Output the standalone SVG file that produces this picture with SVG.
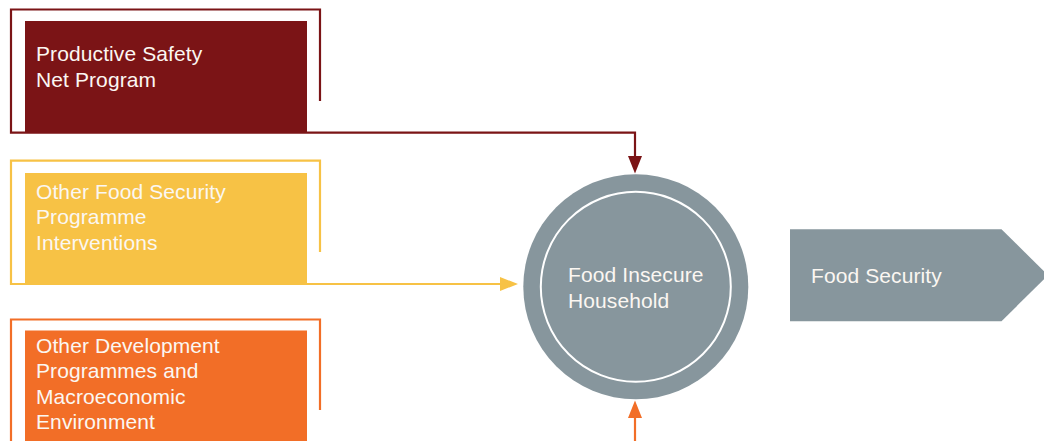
<svg xmlns="http://www.w3.org/2000/svg" width="1044" height="441" viewBox="0 0 1044 441">
  <style>
    .lbl { font-family: "Liberation Sans", Arial, sans-serif; font-size: 21px; letter-spacing: 0.1px; fill: #fbf7f2; }
    .frame { fill: none; stroke-width: 2.2; }
    .conn { fill: none; stroke-width: 2.2; }
    .red { stroke: #7b1416; }
    .yel { stroke: #f7c245; }
    .org { stroke: #f26e27; }
  </style>
  <rect width="1044" height="441" fill="#ffffff"/>

  <!-- Productive Safety Net Program -->
  <g id="node-psnp">
    <path class="frame red" d="M320,101 V9.5 H11 V132.6 H307"/>
    <rect x="25" y="21" width="282" height="111" fill="#7b1416"/>
    <text class="lbl"><tspan x="36" y="61">Productive Safety</tspan><tspan x="36" y="87">Net Program</tspan></text>
  </g>

  <!-- Other Food Security Programme Interventions -->
  <g id="node-ofsp">
    <path class="frame yel" d="M320,252 V160.7 H11 V284 H307"/>
    <rect x="25" y="173" width="282" height="110" fill="#f7c245"/>
    <text class="lbl"><tspan x="36" y="198.5">Other Food Security</tspan><tspan x="36" y="224">Programme</tspan><tspan x="36" y="250">Interventions</tspan></text>
  </g>

  <!-- Other Development Programmes and Macroeconomic Environment -->
  <g id="node-odp">
    <path class="frame org" d="M320,410 V319.5 H11 V441"/>
    <rect x="25" y="330.5" width="282" height="111" fill="#f26e27"/>
    <text class="lbl"><tspan x="36" y="352.7">Other Development</tspan><tspan x="36" y="378.3">Programmes and</tspan><tspan x="36" y="403.8">Macroeconomic</tspan><tspan x="36" y="429.3">Environment</tspan></text>
  </g>

  <!-- Food Insecure Household -->
  <g id="node-household">
    <circle cx="635.8" cy="286.8" r="112.5" fill="#87969d"/>
    <circle cx="635.8" cy="286.8" r="95" fill="none" stroke="#ffffff" stroke-width="2"/>
    <text class="lbl"><tspan x="568" y="282.3">Food Insecure</tspan><tspan x="568" y="308.3">Household</tspan></text>
  </g>

  <!-- Food Security -->
  <g id="node-foodsecurity">
    <polygon points="790,229.3 1001.5,229.3 1048,275.2 1001.5,321.2 790,321.2" fill="#87969d"/>
    <text class="lbl" x="811" y="283.3">Food Security</text>
  </g>

  <!-- Connectors -->
  <g id="connectors">
    <path class="conn red" d="M307,132.6 H635 V157"/>
    <polygon points="628,156 642,156 635,173.5" fill="#7b1416"/>
    <path class="conn yel" d="M307,284 H501"/>
    <polygon points="500,277 518,284 500,291" fill="#f7c245"/>
    <path class="conn org" d="M635,441 V417"/>
    <polygon points="628,418 642,418 635,400.5" fill="#f26e27"/>
  </g>
</svg>
